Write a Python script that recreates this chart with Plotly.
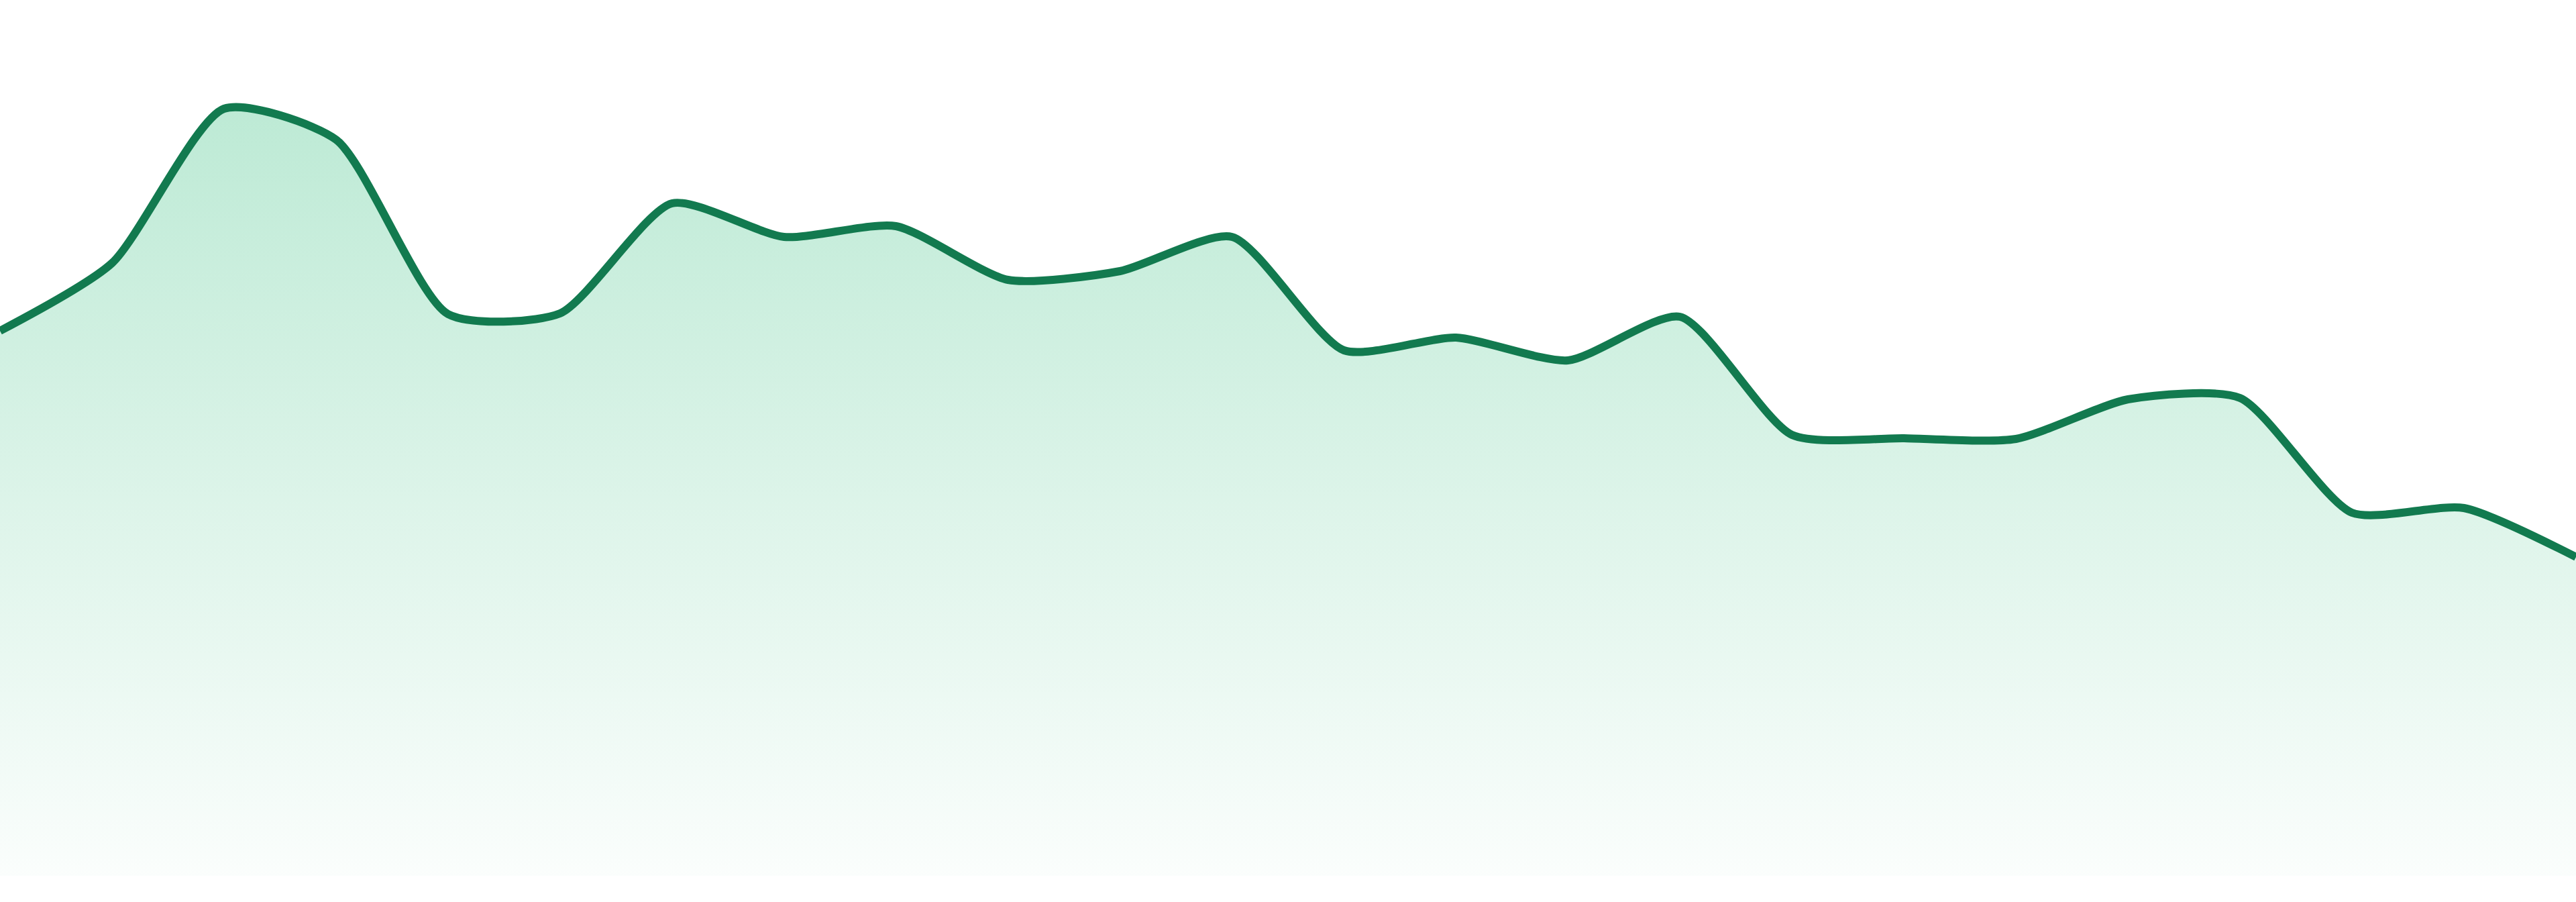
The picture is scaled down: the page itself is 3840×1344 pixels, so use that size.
import plotly.graph_objects as go

# sparkline: one value per step
steps = list(range(24))
values = [81.2, 91.3, 114.3, 109.7, 83.7, 83.8, 100.2, 95.2, 96.8, 88.8,
          90.1, 95.2, 78.3, 80.2, 76.8, 83.3, 65.7, 65.2, 65.1, 71.0,
          71.2, 54.1, 54.8, 47.5]

line_color = "#127a4f"
fill_rgb = "35,185,115"

fig = go.Figure()
fig.add_trace(go.Scatter(
    x=steps, y=values,
    mode="lines",
    line=dict(color=line_color, width=12, shape="spline", smoothing=0.65),
    fill="tozeroy",
    fillgradient=dict(
        type="vertical",
        colorscale=[[0, "rgba(" + fill_rgb + ",0.02)"], [1, "rgba(" + fill_rgb + ",0.3)"]],
        start=0, stop=max(values),
    ),
    hoverinfo="skip",
))

fig.update_layout(
    width=3840, height=1344,
    margin=dict(l=0, r=0, t=0, b=39),
    paper_bgcolor="white", plot_bgcolor="white",
    showlegend=False,
    xaxis=dict(visible=False, range=[0, len(steps) - 1], fixedrange=True),
    yaxis=dict(visible=False, range=[0, 130.5], fixedrange=True),
)

fig.write_html("out.html", config={"displayModeBar": False},
               post_script="document.body.style.margin='0';document.body.style.overflow='hidden';")
